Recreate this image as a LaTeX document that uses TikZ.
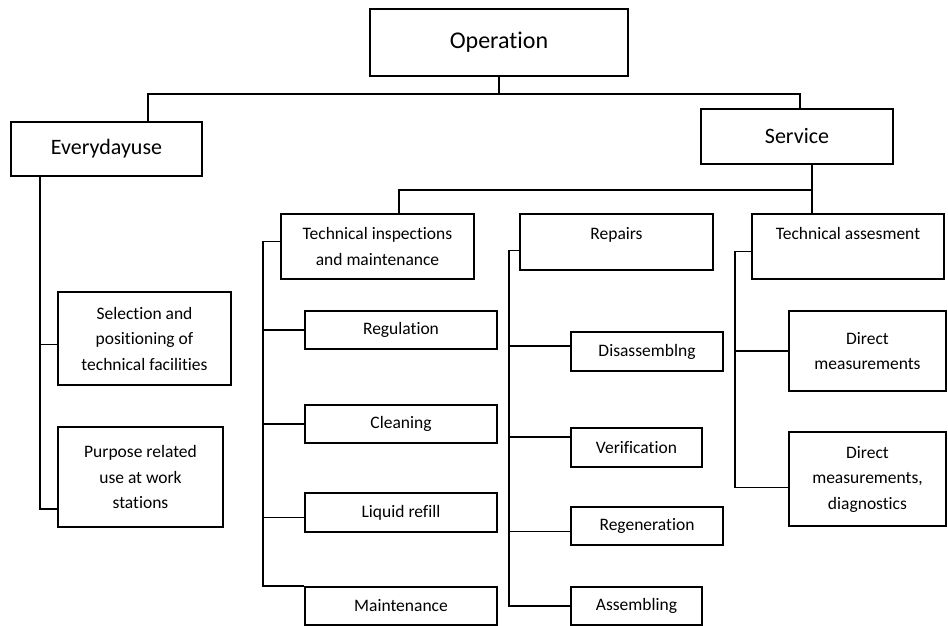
\documentclass[tikz,border=0pt]{standalone}
\usepackage{fontspec}
\setmainfont{Carlito}[Ligatures={NoCommon}]

\begin{document}
\begin{tikzpicture}[x=1pt, y=-1pt, line width=1.6pt,
    box/.style={draw, align=center, inner sep=0pt, font=\fontsize{17.5}{25.5}\selectfont}]
  \useasboundingbox (0,0) rectangle (948,626);

  % Top level
  \node[box, minimum width=258pt, minimum height=67pt, font=\fontsize{24}{28}\selectfont] (op) at (499,42.5) {Operation};
  \node[box, minimum width=191pt, minimum height=54pt, font=\fontsize{22}{26}\selectfont] (every) at (106.5,149) {Everydayuse};
  \node[box, minimum width=192pt, minimum height=55pt, font=\fontsize{22}{26}\selectfont] (service) at (797,136.5) {Service};

  % Everyday use
  \node[box, minimum width=173pt, minimum height=93pt] (sel) at (144.5,338.5) {Selection and\\positioning of\\technical facilities};
  \node[box, minimum width=165pt, minimum height=100pt] (pu) at (140.5,477) {Purpose related\\use at work\\stations};

  % Service
  \node[box, minimum width=193pt, minimum height=65pt] (ti) at (377.5,246.5) {Technical inspections\\and maintenance};
  \node[box, minimum width=193pt, minimum height=56pt, text height=12pt, text depth=18pt] (rep) at (616.5,242) {Repairs};
  \node[box, minimum width=192pt, minimum height=65pt, text height=12pt, text depth=27pt] (ta) at (848,246.5) {Technical assesment};

  % Technical inspections and maintenance
  \node[box, minimum width=192pt, minimum height=38pt] (reg) at (401,330) {Regulation};
  \node[box, minimum width=192pt, minimum height=38pt] (clean) at (401,424) {Cleaning};
  \node[box, minimum width=192pt, minimum height=39pt] (liq) at (401,512.5) {Liquid refill};
  \node[box, minimum width=192pt, minimum height=38pt] (maint) at (401,606) {Maintenance};

  % Repairs
  \node[box, minimum width=152pt, minimum height=39pt] (dis) at (647,351.5) {Disassemblng};
  \node[box, minimum width=131pt, minimum height=39pt] (ver) at (636.5,447.5) {Verification};
  \node[box, minimum width=152pt, minimum height=38pt] (regen) at (647,526) {Regeneration};
  \node[box, minimum width=131pt, minimum height=38pt] (asm) at (636.5,606) {Assembling};

  % Technical assesment
  \node[box, minimum width=157pt, minimum height=80pt] (dm) at (867.5,351) {Direct\\measurements};
  \node[box, minimum width=157pt, minimum height=94pt] (dmd) at (867.5,479) {Direct\\measurements,\\diagnostics};

  % Connectors, top
  \coordinate (eujoin) at (148,94);
  \coordinate (svjoin) at (800,94);
  \draw (op.south) -- (op.south |- eujoin);
  \draw (every.north -| eujoin) |- (svjoin) -- (service.north -| svjoin);

  \coordinate (srjoin) at (812,190);
  \coordinate (tijoin) at (399,190);
  \draw (service.south -| srjoin) -- (ta.north -| srjoin);
  \draw (srjoin) -- (tijoin) -- (ti.north -| tijoin);

  % Connectors, everyday use
  \coordinate (euspine) at (40,0);
  \draw (every.south -| euspine) |- (pu.201);
  \draw (euspine |- sel.184) -- (sel.184);

  % Connectors, inspections
  \coordinate (tispine) at (263,0);
  \draw (ti.177) -- (tispine |- ti.177) |- (maint.north west);
  \draw (tispine |- reg.west) -- (reg.west);
  \draw (tispine |- clean.west) -- (clean.west);
  \draw (tispine |- liq.183) -- (liq.183);

  % Connectors, repairs
  \coordinate (repspine) at (509,0);
  \draw (rep.185) -- (repspine |- rep.185) |- (asm.west);
  \draw (repspine |- dis.176) -- (dis.176);
  \draw (repspine |- ver.171) -- (ver.171);
  \draw (repspine |- regen.184) -- (regen.184);

  % Connectors, assesment
  \coordinate (taspine) at (735,0);
  \draw (ta.183) -- (taspine |- ta.183) |- (dmd.186);
  \draw (taspine |- dm.west) -- (dm.west);
\end{tikzpicture}
\end{document}
